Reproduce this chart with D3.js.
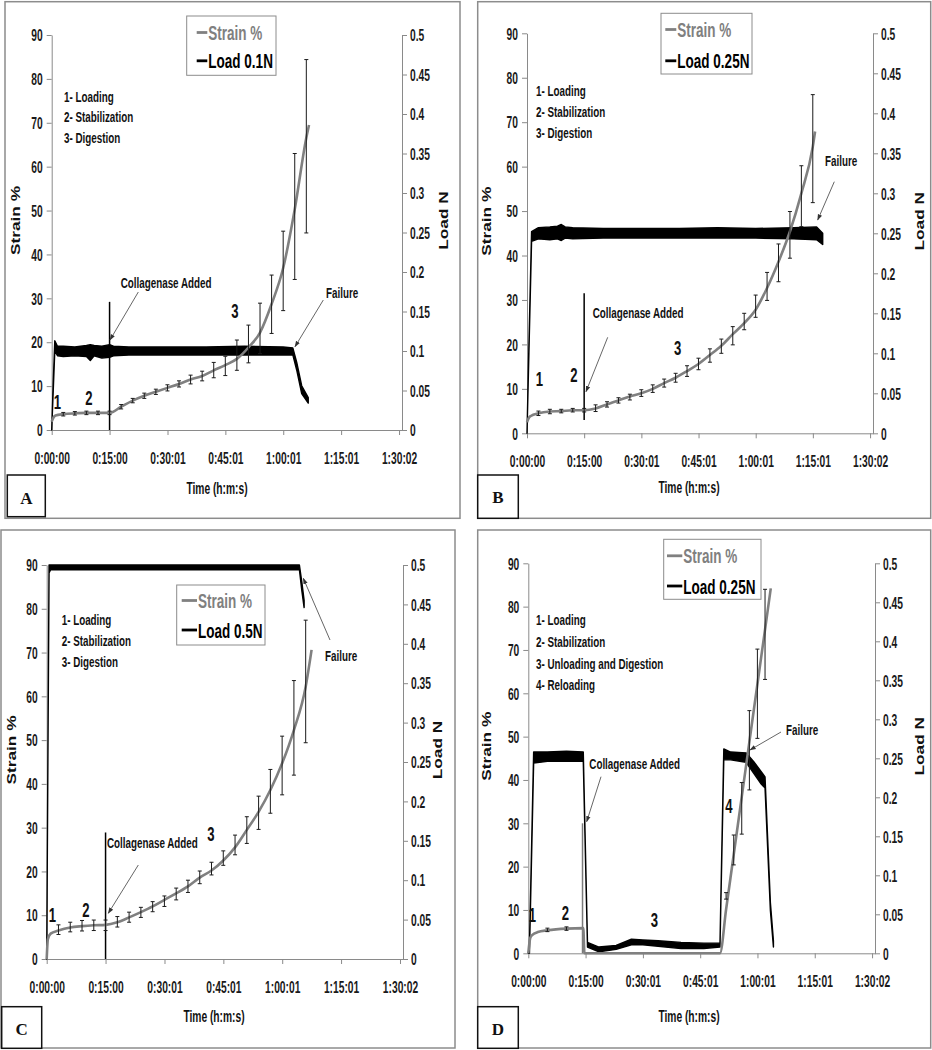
<!DOCTYPE html>
<html><head><meta charset="utf-8">
<script src="https://cdn.jsdelivr.net/npm/d3@7/dist/d3.min.js"></script>
<style>
html,body{margin:0;padding:0;background:#fff;}
svg{display:block;}
text{font-family:"Liberation Sans",Arial,sans-serif;font-weight:bold;}
</style></head><body>
<svg id="chart" width="932" height="1050"></svg>
<script>
// ---------------- DATA ----------------
const timeTicks = [0, 15, 30.017, 45.017, 60.017, 75.017, 90.033];          // minutes
const timeTickLabels = ["0:00:00","0:15:00","0:30:01","0:45:01","1:00:01","1:15:01","1:30:02"];
const strainTicks = [0,10,20,30,40,50,60,70,80,90];
const strainTickLabels = ["0","10","20","30","40","50","60","70","80","90"];
const loadTicks = [0,0.05,0.1,0.15,0.2,0.25,0.3,0.35,0.4,0.45,0.5];
const loadTickLabels = ["0","0.05","0.1","0.15","0.2","0.25","0.3","0.35","0.4","0.45","0.5"];
const panelLetters = ["A","B","C","D"];
const loadNames = ["Load 0.1N","Load 0.25N","Load 0.5N","Load 0.25N"];
const strainName = "Strain %";
const phasesABC = ["1- Loading","2- Stabilization","3- Digestion"];
const phasesD = ["1- Loading","2- Stabilization","3- Unloading and Digestion","4- Reloading"];
const collagenaseT = [15, 15, 15, 14.2];
const collagenaseTop = [29.2, 31.5, 28.9, 30];
const collagenaseBottom = [0, 3, 0, 0];

// Panel A (0.1 N)
const strainA_t = [0,0.5,1,3,6,9,12,15,18,21,24,27,30,33,36,39,42,45,48,51,54,57,60,63,66,66.7];
const strainA_v = [1.9,2.9,3.3,3.6,3.8,3.9,3.9,3.9,5.3,6.7,7.8,8.7,9.6,10.5,11.5,12.3,13.6,14.8,16.2,18.8,22.2,28.7,36.9,50.3,66.6,69.5];
const barA_t  = [3,6,9,12,15,18,21,24,27,30,33,36,39,42,45,48,51,54,57,60,63,66];
const barA_lo = [3.2,3.4,3.5,3.5,3.5,4.8,6.2,7.2,8.1,8.9,9.8,10.5,11.2,11.9,12.4,13.6,15.3,17.4,22.0,27.2,34.3,44.9];
const barA_hi = [4.0,4.2,4.3,4.3,4.3,5.8,7.2,8.4,9.3,10.3,11.2,12.5,13.4,15.4,16.8,20.5,23.9,28.9,35.3,45.3,63.0,84.4];
const loadA_t  = [0,0.4,0.8,1.5,3,6,9,10,11,13,15,16,20,30,40,50,60,62.5,63.5,64.8,66.5];
const loadA_lo = [0,0.05,0.1,0.094,0.093,0.094,0.093,0.088,0.094,0.091,0.092,0.094,0.095,0.095,0.095,0.095,0.095,0.095,0.076,0.046,0.034];
const loadA_hi = [0,0.06,0.113,0.106,0.106,0.105,0.107,0.108,0.107,0.106,0.108,0.106,0.105,0.105,0.105,0.106,0.105,0.104,0.086,0.056,0.041];

// Panel B (0.25 N)
const strainB_t = [0,0.5,1,3,6,9,12,15,18,21,24,27,30,33,36,39,42,45,48,51,54,57,60,63,66,69,72,75,75.6];
const strainB_v = [2.5,3.5,3.9,4.5,4.9,5.0,5.2,5.2,5.6,6.5,7.4,8.3,9.0,10.0,11.3,12.5,14.0,15.6,17.6,19.7,22.3,24.8,27.8,32.7,38.6,45.4,54.0,64.5,67.9];
const barB_t  = [3,6,9,12,15,18,21,24,27,30,33,36,39,42,45,48,51,54,57,60,63,66,69,72,75];
const barB_lo = [4.0,4.4,4.6,4.8,4.8,4.9,5.9,6.8,7.5,8.3,9.2,10.4,11.5,12.8,14.3,16.0,18.0,19.9,23.3,26.1,29.9,34.1,39.4,46.5,51.9];
const barB_hi = [5.0,5.4,5.4,5.6,5.6,6.4,7.1,8.0,8.8,9.8,10.9,12.2,13.5,15.2,16.9,19.0,21.2,24.0,27.0,31.1,36.2,42.6,49.9,60.2,76.2];
const loadB_t  = [0,0.5,1.2,3,6,8,9,10,12,20,30,40,50,60,70,76,77.6];
const loadB_lo = [0,0.1,0.24,0.243,0.242,0.243,0.241,0.244,0.243,0.244,0.244,0.244,0.244,0.244,0.243,0.242,0.236];
const loadB_hi = [0,0.11,0.252,0.257,0.258,0.259,0.261,0.258,0.257,0.256,0.256,0.256,0.257,0.256,0.257,0.258,0.25];

// Panel C (0.5 N)
const strainC_t = [0,0.3,1,3,6,9,12,15,18,21,24,27,30,33,36,39,42,45,48,51,54,57,60,63,66,67.5];
const strainC_v = [0,4.5,5.8,6.5,7.2,7.5,7.7,7.8,8.4,9.5,10.7,12.0,13.5,15.0,16.6,18.6,20.2,22.5,25.5,29.5,33.6,38.6,44.7,52.3,62.2,70.6];
const barC_t  = [3,6,9,12,15,18,21,24,27,30,33,36,39,42,45,48,51,54,57,60,63,66];
const barC_lo = [5.6,6.2,6.4,6.5,6.5,7.3,8.4,9.5,10.8,12.0,13.5,15.2,17.2,19.2,21.4,23.8,26.4,29.6,33.3,37.5,42.0,49.4];
const barC_hi = [7.8,8.4,8.8,8.9,8.9,9.7,10.7,11.8,13.1,14.4,16.2,18.0,20.1,22.1,24.7,28.3,32.5,37.2,43.3,50.9,63.6,77.4];
const loadC_t  = [0,0.6,1,10,20,30,40,50,60,64.4,65.0,65.6];
const loadC_lo = [0,0.49,0.494,0.494,0.494,0.494,0.494,0.494,0.494,0.494,0.468,0.446];
const loadC_hi = [0,0.5,0.5,0.5,0.5,0.5,0.5,0.5,0.5,0.5,0.479,0.455];

// Panel D (0.25 N, unload / reload)
const strainD_t = [0,0.5,1,2.5,5,10,14.4,14.7,50.2,51.8,53.8,55.9,57.9,60,62,63.5];
const strainD_v = [0,3.5,4.2,4.9,5.3,5.7,5.8,0,0,10.1,22.8,36.1,48.8,62.1,74.7,84.2];
const barD_t  = [5,10,51.8,53.8,55.9,57.9,60,62];
const barD_lo = [5.0,5.3,12.5,20.4,27.5,37.7,49.6,63.2];
const barD_hi = [5.8,6.1,14.0,27.3,39.4,56.0,70.2,84.0];
const loadD_t  = [0,0.3,1.4,5,10,14.4,15.5,18.5,23,27,30,34,40,46,50.2,51.2,53,57,59,61,62,63.4,64.2];
const loadD_lo = [0,0.0,0.244,0.246,0.246,0.246,0.008,0.002,0.005,0.011,0.011,0.009,0.006,0.006,0.008,0.248,0.248,0.245,0.231,0.217,0.212,0.055,0.008];
const loadD_hi = [0,0.01,0.258,0.258,0.259,0.258,0.014,0.008,0.010,0.018,0.017,0.016,0.014,0.013,0.013,0.262,0.258,0.257,0.246,0.233,0.226,0.065,0.016];

// ---------------- LAYOUT ----------------
const X_MAX = 90.8;
const SY = 1.28, NX = 0.82;
const AXC = "#8a8a8a", GREY = "#808080";

const panels = [
  {L:51.7,R:402,T:35,B:430, frame:[5,1.7,455,516.6], box:[7.3,475,38,41.7], letterY:504,
   tLX:15, tRX:443, timeX:217, timeY:493.5,
   sT:strainA_t, sV:strainA_v, bT:barA_t, bLo:barA_lo, bHi:barA_hi, lT:loadA_t, lLo:loadA_lo, lHi:loadA_hi,
   collColor:"#000",
   legend:{x:186.7,y:16,w:89.3,h:59.3,r1:32.5,r2:60.8,sx:196.7,tx:208.3},
   phases:phasesABC, phX:64, phY:[101.5,122,142.5],
   nums:[[57.3,409],[89,405],[235,318]],
   collText:[120.7,288.3], collArrow:[138.3,292,110,340],
   failText:[326,298.3], failArrow:[323.3,300,295,346.7]},
  {L:527,R:873,T:33.3,B:433.3, frame:[477.7,1.7,453,516.6], box:[477.7,475,40.6,43.3], letterY:503.3,
   tLX:486, tRX:919, timeX:689, timeY:492.5,
   sT:strainB_t, sV:strainB_v, bT:barB_t, bLo:barB_lo, bHi:barB_hi, lT:loadB_t, lLo:loadB_lo, lHi:loadB_hi,
   collColor:"#000",
   legend:{x:661,y:13.3,w:91,h:60.7,r1:29.5,r2:60.8,sx:665.3,tx:677.3},
   phases:phasesABC, phX:536, phY:[96,117,138],
   nums:[[539.3,386],[574,381.7],[677.7,355]],
   collText:[592.7,318.3], collArrow:[607.7,337.3,586,391.7],
   failText:[825,166], failArrow:[834.3,181.7,817.7,220]},
  {L:46.7,R:403,T:565,B:959, frame:[1,530,454,518], box:[1.7,1006.7,40,41.6], letterY:1035,
   tLX:11, tRX:437, timeX:214, timeY:1022,
   sT:strainC_t, sV:strainC_v, bT:barC_t, bLo:barC_lo, bHi:barC_hi, lT:loadC_t, lLo:loadC_lo, lHi:loadC_hi,
   collColor:"#000",
   legend:{x:176.7,y:585,w:88.3,h:60,r1:600.5,r2:630,sx:181.7,tx:198},
   phases:phasesABC, phX:61.7, phY:[625.3,646,667],
   nums:[[52.5,921.7],[86,917],[211,840.7]],
   collText:[107,848.3], collArrow:[138.3,865,108.3,913.3],
   failText:[325,661], failArrow:[330,640,303.3,578.3]},
  {L:528.3,R:875,T:563.3,B:953.3, frame:[477.7,530,453,518], box:[477.7,1006.7,40.6,41.6], letterY:1035,
   tLX:486, tRX:919, timeX:689, timeY:1022,
   sT:strainD_t, sV:strainD_v, bT:barD_t, bLo:barD_lo, bHi:barD_hi, lT:loadD_t, lLo:loadD_lo, lHi:loadD_hi,
   collColor:"#7a7a7a",
   legend:{x:663.7,y:539.3,w:97.3,h:60,r1:555.8,r2:586,sx:667,tx:683.3},
   phases:phasesD, phX:536, phY:[625.3,647,668.7,690.3],
   nums:[[532.3,921.7],[565.3,920],[654.3,926.7],[729,813]],
   collText:[589.3,769.3], collArrow:[601,776.7,586.7,821.7],
   failText:[786,735], failArrow:[781,732,750,750]}
];

// ---------------- DRAWING ----------------
const svg = d3.select("#chart");
svg.append("rect").attr("width",932).attr("height",1050).attr("fill","#fff");
svg.append("defs").append("marker").attr("id","ah").attr("viewBox","0 0 10 10")
  .attr("refX",9).attr("refY",5).attr("markerWidth",7).attr("markerHeight",7).attr("orient","auto")
  .append("path").attr("d","M0,1.5 L10,5 L0,8.5 z").attr("fill","#333");

function txt(g, x, y, s, o) {
  o = o || {};
  const size = o.size || 12;
  const sx = o.narrow === false ? 1 : NX;
  const tr = o.rot ? `translate(${x},${y}) rotate(-90) scale(${SY},${sx})`
                   : `translate(${x},${y}) scale(${sx},${SY})`;
  const t = g.append("text").attr("transform", tr).attr("font-size", size)
    .attr("text-anchor", o.anchor || "start").attr("fill", o.fill || "#111").text(s);
  if (o.family) t.style("font-family", o.family);
  if (o.dy) t.attr("dy", o.dy);
  return t;
}

function styleAxis(ax, side) {
  ax.attr("font-size", null).attr("font-family", null);
  ax.select(".domain").attr("stroke", AXC).attr("stroke-width", 1);
  ax.selectAll(".tick line").attr("stroke", AXC);
  ax.selectAll(".tick text").each(function () {
    const t = d3.select(this);
    t.attr("x", null).attr("y", null).attr("dy", null).attr("font-size", 12.5).attr("fill", "#1a1a1a");
    if (side === "left") t.attr("transform", `translate(-9,0) scale(${NX},${SY})`).attr("dy", "0.36em");
    else if (side === "right") t.attr("transform", `translate(8,0) scale(${NX},${SY})`).attr("dy", "0.36em");
    else t.attr("transform", `translate(0,33.5) scale(${NX},${SY})`);
  });
}

panels.forEach((P, i) => {
  const g = svg.append("g");
  g.append("rect").attr("x",P.frame[0]).attr("y",P.frame[1]).attr("width",P.frame[2]).attr("height",P.frame[3])
    .attr("fill","none").attr("stroke","#8c8c8c").attr("stroke-width",1.5);

  const x = d3.scaleLinear().domain([0, X_MAX]).range([P.L, P.R]);
  const yL = d3.scaleLinear().domain([0, 90]).range([P.B, P.T]);
  const yR = d3.scaleLinear().domain([0, 0.5]).range([P.B, P.T]);

  const axL = g.append("g").attr("transform", `translate(${P.L},0)`)
    .call(d3.axisLeft(yL).tickValues(strainTicks).tickFormat((d,k)=>strainTickLabels[k]).tickSize(5).tickSizeOuter(0));
  styleAxis(axL, "left");
  const axR = g.append("g").attr("transform", `translate(${P.R},0)`)
    .call(d3.axisRight(yR).tickValues(loadTicks).tickFormat((d,k)=>loadTickLabels[k]).tickSize(5).tickSizeOuter(0));
  styleAxis(axR, "right");
  const axB = g.append("g").attr("transform", `translate(0,${P.B})`)
    .call(d3.axisBottom(x).tickValues(timeTicks).tickFormat((d,k)=>timeTickLabels[k]).tickSize(5).tickSizeOuter(0));
  styleAxis(axB, "bottom");

  // axis titles
  const midY = (P.T + P.B) / 2 - 12;
  txt(g, P.tLX, midY, "Strain %", {rot:true, narrow:false, size:13.5, anchor:"middle", dy:"0.36em"});
  txt(g, P.tRX, midY, "Load N", {rot:true, narrow:false, size:13.5, anchor:"middle", dy:"0.36em"});
  txt(g, P.timeX, P.timeY, "Time (h:m:s)", {size:12.5, anchor:"middle"});

  // load (noisy band between read lower / upper envelope)
  const loadData = P.lT.map((t,k)=>({t:t, lo:P.lLo[k], hi:P.lHi[k]}));
  g.append("path").datum(loadData)
    .attr("d", d3.area().x(d=>x(d.t)).y0(d=>yR(d.lo)).y1(d=>yR(d.hi)))
    .attr("fill","#000").attr("stroke","#000").attr("stroke-width",1.4).attr("stroke-linejoin","round");

  // collagenase marker line
  g.append("line").attr("x1",x(collagenaseT[i])).attr("x2",x(collagenaseT[i]))
    .attr("y1",yL(collagenaseBottom[i])).attr("y2",yL(collagenaseTop[i]))
    .attr("stroke",P.collColor).attr("stroke-width",1.5);

  // strain curve
  const strainData = P.sT.map((t,k)=>[t, P.sV[k]]);
  g.append("path").datum(strainData)
    .attr("d", d3.line().x(d=>x(d[0])).y(d=>yL(d[1])).curve(d3.curveMonotoneX))
    .attr("fill","none").attr("stroke",GREY).attr("stroke-width",2.6).attr("stroke-linejoin","round");

  // error bars
  const bars = P.bT.map((t,k)=>({t:t, lo:P.bLo[k], hi:P.bHi[k]}));
  const eb = g.append("g").attr("stroke","#1a1a1a").attr("stroke-width",1);
  eb.selectAll(".v").data(bars).join("line")
    .attr("x1",d=>x(d.t)).attr("x2",d=>x(d.t)).attr("y1",d=>yL(d.lo)).attr("y2",d=>yL(d.hi));
  eb.selectAll(".c1").data(bars).join("line")
    .attr("x1",d=>x(d.t)-2).attr("x2",d=>x(d.t)+2).attr("y1",d=>yL(d.lo)).attr("y2",d=>yL(d.lo));
  eb.selectAll(".c2").data(bars).join("line")
    .attr("x1",d=>x(d.t)-2).attr("x2",d=>x(d.t)+2).attr("y1",d=>yL(d.hi)).attr("y2",d=>yL(d.hi));

  // legend
  const Lg = P.legend;
  g.append("rect").attr("x",Lg.x).attr("y",Lg.y).attr("width",Lg.w).attr("height",Lg.h)
    .attr("fill","#fff").attr("stroke","#8c8c8c").attr("stroke-width",1);
  g.append("line").attr("x1",Lg.sx).attr("x2",Lg.tx-1).attr("y1",Lg.r1).attr("y2",Lg.r1).attr("stroke",GREY).attr("stroke-width",2.8);
  txt(g, Lg.tx, Lg.r1 + 7.5, strainName, {size:16.5, fill:GREY});
  g.append("line").attr("x1",Lg.sx).attr("x2",Lg.tx-1).attr("y1",Lg.r2).attr("y2",Lg.r2).attr("stroke","#000").attr("stroke-width",2.8);
  txt(g, Lg.tx, Lg.r2 + 7.5, loadNames[i], {size:16.5, fill:"#000"});

  // phase list
  P.phases.forEach((s,k)=> txt(g, P.phX, P.phY[k], s, {size:12}));
  // phase numbers
  P.nums.forEach((p,k)=> txt(g, p[0], p[1], String(k+1), {size:16, anchor:"middle"}));

  // annotations
  txt(g, P.collText[0], P.collText[1], "Collagenase Added", {size:12});
  txt(g, P.failText[0], P.failText[1], "Failure", {size:12});
  [P.collArrow, P.failArrow].forEach(a => {
    g.append("line").attr("x1",a[0]).attr("y1",a[1]).attr("x2",a[2]).attr("y2",a[3])
      .attr("stroke","#555").attr("stroke-width",0.9).attr("marker-end","url(#ah)");
  });

  // panel letter box
  g.append("rect").attr("x",P.box[0]).attr("y",P.box[1]).attr("width",P.box[2]).attr("height",P.box[3])
    .attr("fill","#fff").attr("stroke","#111").attr("stroke-width",1.5);
  g.append("text").attr("x",P.box[0]+P.box[2]/2).attr("y",P.letterY).attr("text-anchor","middle")
    .attr("font-size",17).style("font-family","'Liberation Serif','Times New Roman',serif").attr("fill","#111")
    .text(panelLetters[i]);
});
</script>
</body></html>
